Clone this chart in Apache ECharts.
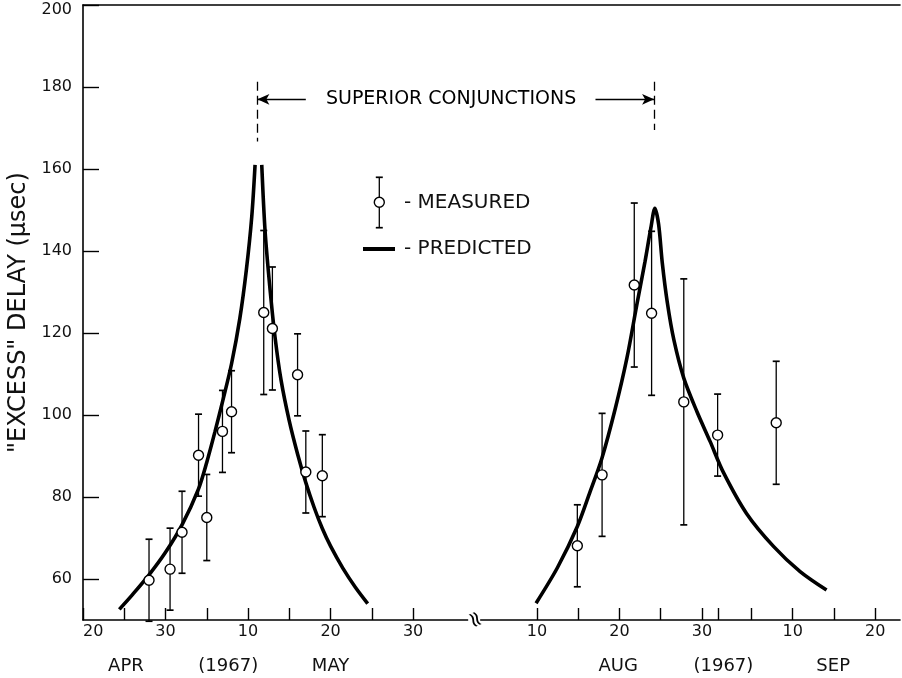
<!DOCTYPE html>
<html><head><meta charset="utf-8">
<script src="https://cdn.jsdelivr.net/npm/echarts@6/dist/echarts.min.js"></script>
<style>html,body{margin:0;padding:0;background:#fff}#c{width:902px;height:678px}</style>
</head><body><div id="c"></div>
<script>
// ---- data (x as day-of-year 1967) ----
const measDoy = [118.0, 120.55, 122.0, 124.0, 125.0, 126.9, 128.0, 131.9, 132.95, 136.0, 137.0, 139.0,
                 226.9, 229.9, 233.8, 235.9, 239.8, 243.9, 251.0];
const measVal = [59.7, 62.4, 71.4, 90.2, 75.0, 96.0, 100.8, 125.0, 121.1, 109.8, 86.1, 85.2,
                 68.1, 85.4, 131.7, 124.8, 103.2, 95.1, 98.1];
const measErr = [10, 10, 10, 10, 10.5, 10, 10, 20, 15, 10, 10, 10,
                 10, 15, 20, 20, 30, 10, 15];

const predAprRiseDoy = [114.4, 116, 118, 120, 122, 124, 125, 126, 127, 128, 129, 129.8, 130.45, 130.85];
const predAprRiseVal = [52.6, 56.2, 61.0, 66.5, 73.2, 82.0, 88.5, 96.0, 104.0, 112.5, 123.5, 135.5, 148.4, 161.0];
const predAprFallDoy = [131.66, 132.06, 132.67, 133.27, 134, 135, 136, 137, 138, 139, 140, 141.5, 143, 144.5];
const predAprFallVal = [161.0, 145.0, 130.5, 119.0, 108.5, 98.5, 90.5, 83.5, 77.5, 72.3, 68.0, 62.6, 58.0, 54.0];
const predAugDoy = [221.9, 224.5, 226.9, 228.45, 229.87, 231.5, 232.9, 234.1, 235.1, 235.8, 236.3, 236.75, 237.2,
                    237.8, 238.6, 239.8, 241.4, 243.0, 244.6, 247.4, 250.7, 253.9, 257.1];
const predAugVal = [54.1, 62.8, 72.8, 81.3, 89.4, 101.6, 113.8, 126.8, 137.4, 145.5, 150.4, 146.5, 137.0,
                    127.5, 118.3, 109.0, 100.8, 93.5, 86.0, 76.0, 67.9, 61.8, 57.3];

const xTickDoy = [110, 115, 120, 125, 130, 135, 140, 145, 150, 222, 227, 232, 237, 242, 244, 248, 253, 258, 263];
const xLabelDoy = [110, 120, 130, 140, 150, 222, 232, 242, 253, 263];
const xLabelText = ['20', '30', '10', '20', '30', '10', '20', '30', '10', '20'];
const monthLabelDoy = [115.2, 127.6, 140, 231.85, 244.6, 257.9];
const monthLabelText = ['APR', '(1967)', 'MAY', 'AUG', '(1967)', 'SEP'];
const yTicks = [60, 80, 100, 120, 140, 160, 180, 200];

const conjDoy = [131.13, 236.2];
const conjTop = 181.3, conjLow = [166.7, 169.5], arrowVal = 177.0;
const arrowTailDoy = [137.0, 229.1];

// axis units: April/May segment and Aug/Sep segment joined across the break
function u(doy) { return doy < 180 ? doy - 110 : doy - 167; }
const breakUnit = 47.4, annotUnit = 44.6;

const FONT = 'DejaVu Sans';
function lookup(vals, texts) {
  return function (v) {
    for (let i = 0; i < vals.length; i++) if (Math.abs(u(vals[i]) - v) < 1e-6) return texts[i];
    return '';
  };
}
const pairs = (xs, ys) => xs.map((d, i) => [u(d), ys[i]]);
const measData = measDoy.map((d, i) => [u(d), measVal[i], measErr[i]]);

const chart = echarts.init(document.getElementById('c'), null, { renderer: 'canvas' });
const curveStyle = { color: '#000', width: 3.6 };
const dashed = { color: '#000', width: 1.3, type: [9, 5] };

const markData = [];
conjDoy.forEach((d, i) => {
  markData.push([{ coord: [u(d), conjTop], symbol: 'none', lineStyle: dashed }, { coord: [u(d), conjLow[i]], symbol: 'none' }]);
  markData.push([{ coord: [u(arrowTailDoy[i]), arrowVal], symbol: 'none', lineStyle: { color: '#000', width: 1.3, type: 'solid' } },
                 { coord: [u(d), arrowVal], symbol: 'arrow', symbolSize: [8, 12] }]);
});

const curve = (name, xs, ys) => ({ type: 'line', name: name, data: pairs(xs, ys), smooth: 0.3,
  showSymbol: false, symbol: 'none', lineStyle: curveStyle, z: 3 });

const legendGraphic = [
  { type: 'line', shape: { x1: 379.3, y1: 177.3, x2: 379.3, y2: 227.7 }, style: { stroke: '#000', lineWidth: 1.3 } },
  { type: 'line', shape: { x1: 375.8, y1: 177.3, x2: 382.8, y2: 177.3 }, style: { stroke: '#000', lineWidth: 1.7 } },
  { type: 'line', shape: { x1: 375.8, y1: 227.7, x2: 382.8, y2: 227.7 }, style: { stroke: '#000', lineWidth: 1.7 } },
  { type: 'circle', shape: { cx: 379.3, cy: 202.3, r: 5 }, style: { fill: '#fff', stroke: '#000', lineWidth: 1.4 } },
  { type: 'text', x: 404, y: 202.3, style: { text: '- MEASURED', fontSize: 20, fontFamily: FONT, fill: '#111', verticalAlign: 'middle' } },
  { type: 'line', shape: { x1: 363, y1: 249, x2: 395, y2: 249 }, style: { stroke: '#000', lineWidth: 4 } },
  { type: 'text', x: 404, y: 249, style: { text: '- PREDICTED', fontSize: 20, fontFamily: FONT, fill: '#111', verticalAlign: 'middle' } }
];

chart.setOption({
  animation: false,
  backgroundColor: '#fff',
  grid: { left: 83, right: 2, top: 5, bottom: 58, outerBoundsMode: 'none', containLabel: false },
  xAxis: [
    {
      type: 'value', min: 0, max: 99, position: 'bottom',
      axisLine: { show: true, onZero: false, lineStyle: { color: '#000', width: 1.6 } },
      axisTick: { show: true, inside: true, length: 12, customValues: xTickDoy.map(u), lineStyle: { color: '#000', width: 1.4 } },
      axisLabel: { customValues: xLabelDoy.map(u), formatter: lookup(xLabelDoy, xLabelText), alignMinLabel: 'left',
                   margin: 4, fontSize: 16, color: '#111', fontFamily: FONT },
      splitLine: { show: false }
    },
    {
      type: 'value', min: 0, max: 99, position: 'bottom',
      axisLine: { show: false }, axisTick: { show: false },
      axisLabel: { customValues: monthLabelDoy.map(u), formatter: lookup(monthLabelDoy, monthLabelText),
                   margin: 37, fontSize: 18, color: '#111', fontFamily: FONT },
      splitLine: { show: false }
    },
    {
      type: 'value', min: 0, max: 99, position: 'top',
      axisLine: { show: true, lineStyle: { color: '#000', width: 1.6 } },
      axisTick: { show: false }, axisLabel: { show: false }, splitLine: { show: false }
    }
  ],
  yAxis: {
    type: 'value', min: 50, max: 200,
    name: '"EXCESS" DELAY (μsec)', nameLocation: 'middle', nameGap: 50,
    nameTextStyle: { fontSize: 24, color: '#111', fontFamily: FONT },
    axisLine: { show: true, lineStyle: { color: '#000', width: 1.6 } },
    axisTick: { show: true, inside: true, length: 16, customValues: yTicks, lineStyle: { color: '#000', width: 1.4 } },
    axisLabel: { customValues: yTicks, margin: 11, fontSize: 16, color: '#111', fontFamily: FONT,
                 formatter: v => (v === 200 ? '{t|' + v + '}' : String(v)),
                 rich: { t: { fontSize: 16, color: '#111', fontFamily: FONT, padding: [9, 0, 0, 0] } } },
    splitLine: { show: false }
  },
  series: [
    {
      type: 'custom', name: 'errbars', data: measData, z: 2,
      renderItem: function (params, api) {
        const x = api.value(0), y = api.value(1), e = api.value(2);
        const t = api.coord([x, y + e]), b = api.coord([x, y - e]);
        const w = 3.5, st = { stroke: '#000', lineWidth: 1.3 };
        return { type: 'group', children: [
          { type: 'line', shape: { x1: t[0], y1: t[1], x2: b[0], y2: b[1] }, style: st },
          { type: 'line', shape: { x1: t[0] - w, y1: t[1], x2: t[0] + w, y2: t[1] }, style: { stroke: '#000', lineWidth: 1.7 } },
          { type: 'line', shape: { x1: b[0] - w, y1: b[1], x2: b[0] + w, y2: b[1] }, style: { stroke: '#000', lineWidth: 1.7 } }
        ] };
      }
    },
    curve('predAprRise', predAprRiseDoy, predAprRiseVal),
    curve('predAprFall', predAprFallDoy, predAprFallVal),
    curve('predAug', predAugDoy, predAugVal),
    {
      type: 'scatter', name: 'measured', data: measData.map(d => [d[0], d[1]]), z: 4,
      symbol: 'circle', symbolSize: 10,
      itemStyle: { color: '#fff', borderColor: '#000', borderWidth: 1.4, opacity: 1 }
    },
    {
      type: 'line', name: 'conj', data: [], z: 5,
      markLine: { silent: true, animation: false, symbol: ['none', 'none'], label: { show: false },
                  lineStyle: { color: '#000', width: 1.3 }, itemStyle: { color: '#000' }, data: markData }
    }
  ],
  graphic: legendGraphic
});

// annotation text and axis-break glyph placed through the chart's own coordinate conversion
const pAnnot = chart.convertToPixel({ gridIndex: 0 }, [annotUnit, arrowVal]);
const pBreak = chart.convertToPixel({ gridIndex: 0 }, [breakUnit, 50]);
chart.setOption({
  graphic: legendGraphic.concat([
    { type: 'text', x: pAnnot[0], y: pAnnot[1], z: 10,
      style: { text: 'SUPERIOR CONJUNCTIONS', fontSize: 19, fontFamily: FONT, fill: '#000', align: 'center', verticalAlign: 'middle' } },
    { type: 'rect', shape: { x: pBreak[0] - 6, y: pBreak[1] - 4, width: 12, height: 8 }, style: { fill: '#fff' }, z: 9 },
    { type: 'text', x: pBreak[0], y: pBreak[1], rotation: -65 * Math.PI / 180, z: 10,
      style: { text: '≈', fontSize: 22, fontFamily: FONT, fill: '#000', align: 'center', verticalAlign: 'middle' } }
  ])
});
</script>
</body></html>
